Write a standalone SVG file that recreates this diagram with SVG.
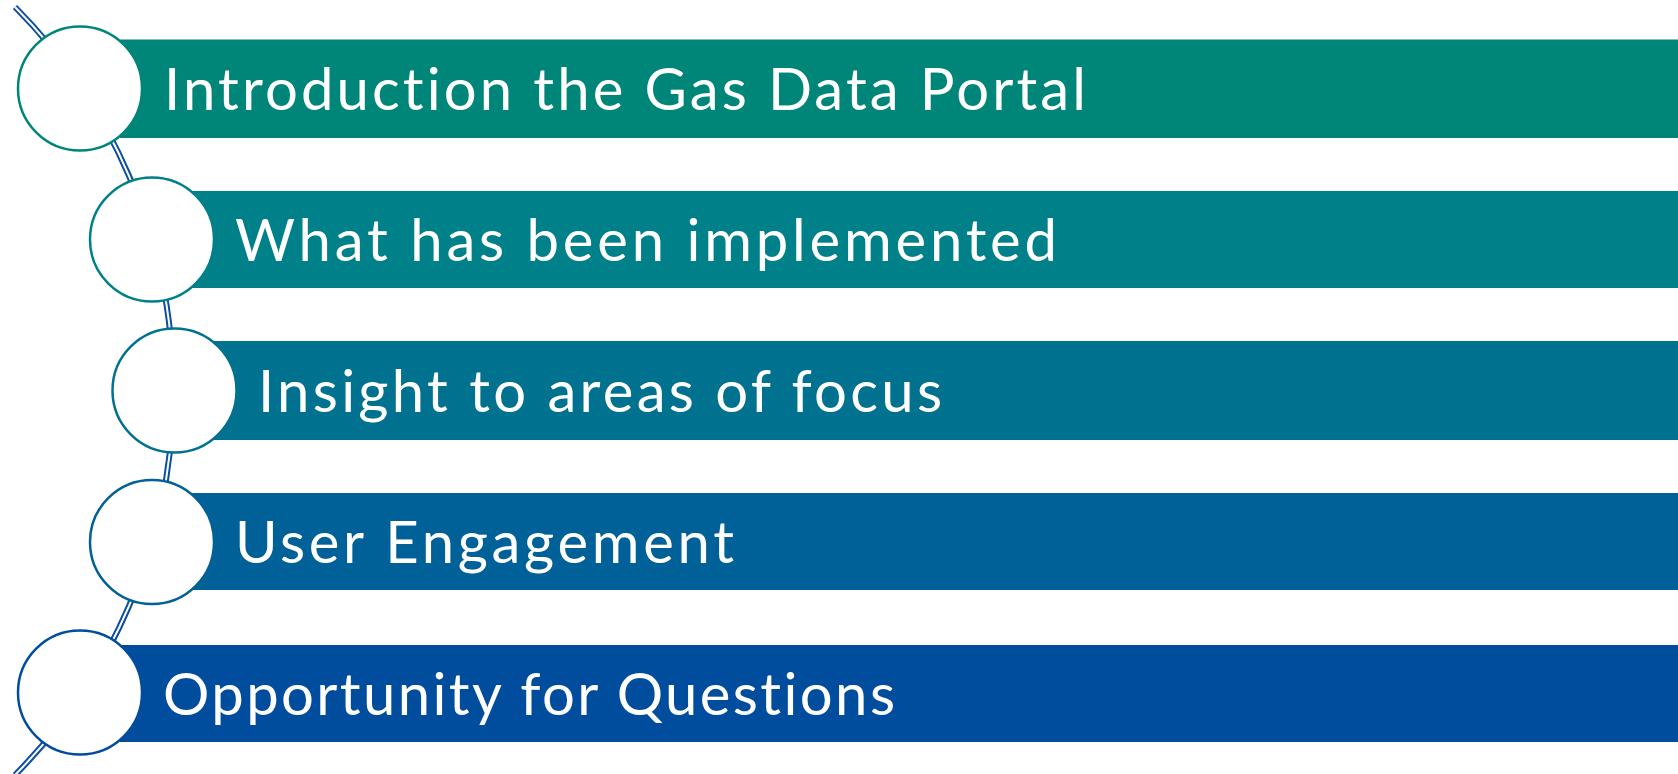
<svg xmlns="http://www.w3.org/2000/svg" width="1678" height="774" viewBox="0 0 1678 774">
<style>
.lbl{font-family:"Lato","Open Sans","Liberation Sans",sans-serif;font-size:58px;fill:#ffffff;font-variant-ligatures:none;font-feature-settings:"liga" 0,"clig" 0;}
.dot{fill:#ffffff;stroke-width:2.5;}
</style>
<rect width="1678" height="774" fill="#ffffff"/>
<g id="connectors">
<path d="M 15 7 A 545 545 0 0 1 15 775" fill="none" stroke="#0B4EA2" stroke-width="6"/>
<path d="M 15 7 A 545 545 0 0 1 15 775" fill="none" stroke="#ffffff" stroke-width="2"/>
</g>
<g id="item1">
<rect x="120" y="39.5" width="1558" height="98.5" fill="#008579"/>
<circle class="dot" cx="80" cy="88.5" r="62" stroke="#008579"/>
<text class="lbl" x="164" y="109.5" textLength="922" lengthAdjust="spacing">Introduction the Gas Data Portal</text>
</g>
<g id="item2">
<rect x="192" y="191" width="1486" height="97" fill="#00818A"/>
<circle class="dot" cx="152" cy="239.5" r="62" stroke="#00818A"/>
<text class="lbl" x="235" y="260.5" textLength="822" lengthAdjust="spacing">What has been implemented</text>
</g>
<g id="item3">
<rect x="214" y="341" width="1464" height="99" fill="#00728F"/>
<circle class="dot" cx="174.5" cy="390.5" r="62" stroke="#00728F"/>
<text class="lbl" x="258" y="411.5" textLength="684" lengthAdjust="spacing">Insight to areas of focus</text>
</g>
<g id="item4">
<rect x="192" y="493" width="1486" height="97" fill="#006098"/>
<circle class="dot" cx="152" cy="542" r="62" stroke="#006098"/>
<text class="lbl" x="235" y="563" textLength="499" lengthAdjust="spacing">User Engagement</text>
</g>
<g id="item5">
<rect x="120" y="645" width="1558" height="97" fill="#004C9D"/>
<circle class="dot" cx="80" cy="692.5" r="62" stroke="#004C9D"/>
<text class="lbl" x="163" y="715" textLength="732" lengthAdjust="spacing">Opportunity for Questions</text>
</g>
</svg>
